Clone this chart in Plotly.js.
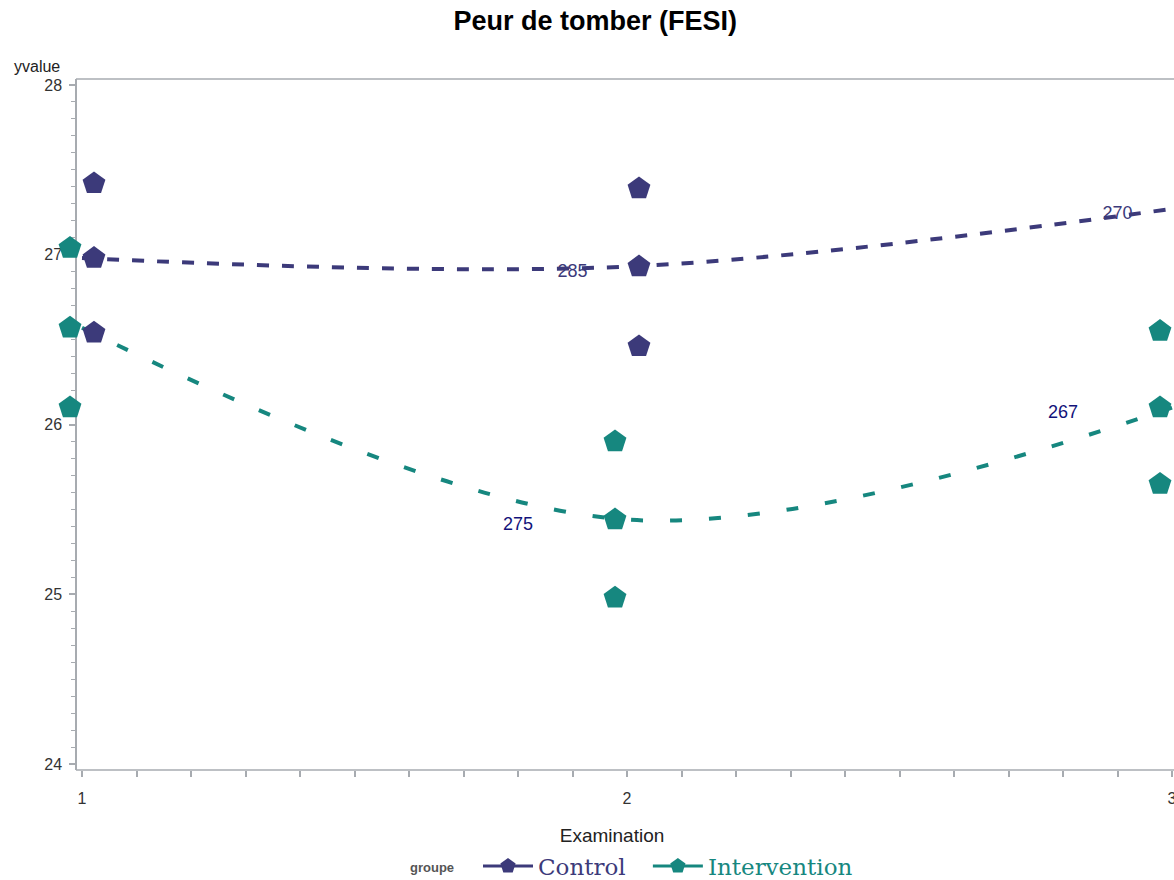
<!DOCTYPE html>
<html>
<head>
<meta charset="utf-8">
<script src="https://cdn.plot.ly/plotly-3.0.1.min.js"></script>
<style>
  html, body { margin: 0; padding: 0; background: #fff; }
  #chart { width: 1174px; height: 880px; }
</style>
</head>
<body>
<div id="chart"></div>
<script>
// ---- data ----
const exams = [1, 2, 3];
const controlMean = [26.98, 26.93, 27.27];
const controlUpper = [27.42, 27.39, 27.78];
const controlLower = [26.54, 26.46, 26.79];
const interventionMean = [26.57, 25.44, 26.10];
const interventionUpper = [27.04, 25.90, 26.55];
const interventionLower = [26.10, 24.98, 25.65];
const labelExams = [2, 3];
const controlN = [285, 270];
const interventionN = [275, 267];
const groupNames = ['Control', 'Intervention'];

// ---- styles ----
const cControl = '#3c3a7a';
const cInter = '#16877f';
const cLabelControl = '#3c3a7a';
const cLabelInter = '#12127a';
const axisGray = '#a7abb0';
const sans = 'Liberation Sans, Arial, sans-serif';
const jitter = 0.022;
const labelDy = -0.035;

// geometry of the frame
const W = 1174, H = 880;
const mL = 50, mT = 79, mB = 110;
const plotW = W - mL, plotH = H - mT - mB;
const axisX = 76;                 // pixel where the vertical axis sits
const yAxisPos = (axisX - mL) / plotW;

function pts(xs, arrs, dx) {
  const X = [], Y = [];
  arrs.forEach(a => a.forEach((v, i) => { X.push(xs[i] + dx); Y.push(v); }));
  return { X, Y };
}
const cp = pts(exams, [controlUpper, controlMean, controlLower], jitter);
const ip = pts(exams, [interventionUpper, interventionMean, interventionLower], -jitter);

const spacer = '<span style="font-size:18px">&nbsp;&nbsp;&nbsp;</span>';

const traces = [
  { type: 'scatter', mode: 'text', x: labelExams.map(e => e - 0.1),
    y: labelExams.map(e => controlMean[exams.indexOf(e)] + labelDy),
    text: controlN.map(String), textposition: 'middle center',
    textfont: { family: sans, size: 18, color: cLabelControl },
    showlegend: false, hoverinfo: 'skip', cliponaxis: false },
  { type: 'scatter', mode: 'text', x: labelExams.map(e => e - 0.2),
    y: labelExams.map(e => interventionMean[exams.indexOf(e)] + labelDy),
    text: interventionN.map(String), textposition: 'middle center',
    textfont: { family: sans, size: 18, color: cLabelInter },
    showlegend: false, hoverinfo: 'skip', cliponaxis: false },
  { type: 'scatter', mode: 'lines', x: exams, y: controlMean,
    line: { color: cControl, width: 4, dash: '12px,13px', shape: 'spline', smoothing: 1 },
    showlegend: false, hoverinfo: 'skip' },
  { type: 'scatter', mode: 'lines', x: exams, y: interventionMean,
    line: { color: cInter, width: 4, dash: '12px,27px', shape: 'spline', smoothing: 1 },
    showlegend: false, hoverinfo: 'skip' },
  { type: 'scatter', mode: 'markers', x: cp.X, y: cp.Y, cliponaxis: false,
    marker: { symbol: 'pentagon', size: 24, color: cControl, line: { width: 0 } },
    showlegend: false },
  { type: 'scatter', mode: 'markers', x: ip.X, y: ip.Y, cliponaxis: false,
    marker: { symbol: 'pentagon', size: 24, color: cInter, line: { width: 0 } },
    showlegend: false },
  { type: 'scatter', mode: 'lines+markers', x: [null], y: [null],
    name: '<span style="color:' + cControl + '">' + groupNames[0] + '</span>' + spacer,
    line: { color: cControl, width: 3 },
    marker: { symbol: 'pentagon', size: 16, color: cControl } },
  { type: 'scatter', mode: 'lines+markers', x: [null], y: [null],
    name: '<span style="color:' + cInter + '">' + groupNames[1] + '</span>',
    line: { color: cInter, width: 3 },
    marker: { symbol: 'pentagon', size: 16, color: cInter } }
];

const pxPerUnit = 545;
const xLeft = 1 - (82 - mL) / pxPerUnit;
const xRight = xLeft + plotW / pxPerUnit;

const layout = {
  width: W, height: H,
  margin: { l: mL, r: 0, t: mT, b: mB, autoexpand: false },
  paper_bgcolor: '#fff', plot_bgcolor: '#fff',
  font: { family: sans, color: '#333' },
  title: { text: 'Peur de tomber (FESI)', x: 0.507, xanchor: 'center', y: 0.977, yanchor: 'middle',
           font: { family: sans, size: 27, color: '#000', weight: 'bold' } },
  xaxis: {
    range: [xLeft, xRight], showgrid: false, zeroline: false, showline: false,
    ticks: 'outside', tickcolor: axisGray, ticklen: 6, tickwidth: 1.5,
    tickmode: 'array', tickvals: exams, ticktext: exams.map(String),
    ticklabelstandoff: 8, ticklabeloverflow: 'allow',
    tickfont: { family: sans, size: 16, color: '#333' },
    minor: { dtick: 0.1, tick0: 1, ticks: 'outside', ticklen: 6, tickcolor: axisGray, tickwidth: 1.5, showgrid: false },
    title: { text: 'Examination', standoff: 22, font: { family: sans, size: 19, color: '#222' } }
  },
  yaxis: {
    range: [23.965, 28.035], showgrid: false, zeroline: false,
    anchor: 'free', position: yAxisPos, layer: 'below traces',
    showline: true, linecolor: axisGray, linewidth: 1.5,
    ticks: 'outside', tickcolor: axisGray, ticklen: 6, tickwidth: 1.5,
    dtick: 1, tick0: 24, ticklabelstandoff: 4,
    tickfont: { family: sans, size: 16, color: '#333' },
    minor: { dtick: 0.1, ticks: 'outside', ticklen: 4, tickcolor: axisGray, tickwidth: 1.2, showgrid: false }
  },
  shapes: [
    { type: 'line', xref: 'paper', yref: 'paper', x0: yAxisPos, x1: 1, y0: 0, y1: 0,
      line: { color: axisGray, width: 1.5 }, layer: 'below' },
    { type: 'line', xref: 'paper', yref: 'paper', x0: yAxisPos, x1: 1, y0: 1, y1: 1,
      line: { color: axisGray, width: 1.5 }, layer: 'below' }
  ],
  showlegend: true,
  legend: {
    orientation: 'h', x: (478 - mL) / plotW, xanchor: 'left', y: -(866 - (H - mB)) / plotH, yanchor: 'middle',
    font: { family: 'DejaVu Serif, serif', size: 23 },
    itemwidth: 50, bgcolor: 'rgba(0,0,0,0)'
  },
  annotations: [
    { text: 'yvalue', xref: 'paper', yref: 'paper', x: (12 - mL) / plotW, y: 1 + 13 / plotH,
      xanchor: 'left', yanchor: 'middle', showarrow: false,
      font: { family: sans, size: 16, color: '#222' } },
    { text: '<b>groupe</b>', xref: 'paper', yref: 'paper', x: (432 - mL) / plotW, y: -(868 - (H - mB)) / plotH,
      xanchor: 'center', yanchor: 'middle', showarrow: false,
      font: { family: 'Liberation Sans Narrow, Arial Narrow, sans-serif', size: 13, color: '#555' } }
  ]
};

Plotly.newPlot('chart', traces, layout, { displayModeBar: false, responsive: false });
</script>
</body>
</html>
